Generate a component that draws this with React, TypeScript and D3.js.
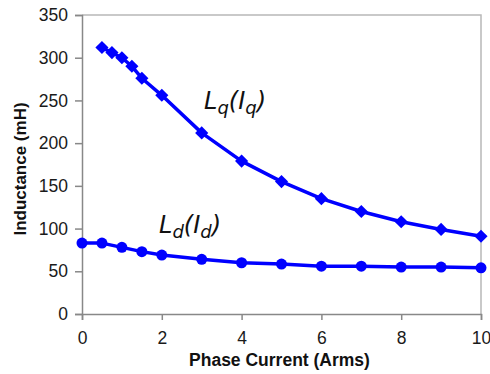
import { useEffect, useRef } from "react";
import * as d3 from "d3";

const lqCurrent = [0.5, 0.75, 1, 1.25, 1.5, 2, 3, 4, 5, 6, 7, 8, 9, 10];
const lqValues = [312, 306, 300, 290, 276, 256, 212, 179, 155, 135, 120, 108, 99, 91];
const ldCurrent = [0, 0.5, 1, 1.5, 2, 3, 4, 5, 6, 7, 8, 9, 10];
const ldValues = [83, 83, 78, 73, 69, 64, 60, 58.5, 56, 56, 55, 55, 54];
const xTicks = [0, 2, 4, 6, 8, 10];
const yTicks = [0, 50, 100, 150, 200, 250, 300, 350];

const W = 490;
const H = 374;
const BLUE = "#0000ff";

export default function App() {
  const svgRef = useRef<SVGSVGElement>(null);

  useEffect(() => {
    if (!svgRef.current) return;
    const svg = d3.select(svgRef.current);
    svg.selectAll("*").remove();

    const margin = { top: 15, right: 9, bottom: 60, left: 82 };
    const innerW = W - margin.left - margin.right;
    const innerH = H - margin.top - margin.bottom;

    const x = d3.scaleLinear().domain([0, 10]).range([0, innerW]);
    const y = d3.scaleLinear().domain([0, 350]).range([innerH, 0]);

    const g = svg
      .append("g")
      .attr("transform", `translate(${margin.left},${margin.top})`);

    // plot frame (top and right)
    g.append("path")
      .attr("d", `M0,0H${innerW}V${innerH}`)
      .attr("fill", "none")
      .attr("stroke", "#b8b8b8")
      .attr("stroke-width", 1.5);

    const font = "Arial, 'Liberation Sans', sans-serif";

    const yAxis = g
      .append("g")
      .call(d3.axisLeft(y).tickValues(yTicks).tickSize(7).tickPadding(7));
    yAxis.selectAll("path, line").attr("stroke", "#888").attr("stroke-width", 1.5);
    yAxis
      .selectAll("text")
      .style("font-family", font)
      .style("font-size", "17.5px")
      .style("fill", "#1a1a1a");

    const xAxis = g
      .append("g")
      .attr("transform", `translate(0,${innerH})`)
      .call(d3.axisBottom(x).tickValues(xTicks).tickSize(6).tickPadding(12));
    xAxis.selectAll("path, line").attr("stroke", "#888").attr("stroke-width", 1.5);
    xAxis
      .selectAll("text")
      .style("font-family", font)
      .style("font-size", "17.5px")
      .style("fill", "#1a1a1a");

    const lqData = lqCurrent.map((c, i) => [c, lqValues[i]] as [number, number]);
    const ldData = ldCurrent.map((c, i) => [c, ldValues[i]] as [number, number]);

    const line = d3
      .line<[number, number]>()
      .x((d) => x(d[0]))
      .y((d) => y(d[1]));

    for (const data of [lqData, ldData]) {
      g.append("path")
        .datum(data)
        .attr("fill", "none")
        .attr("stroke", BLUE)
        .attr("stroke-width", 3.5)
        .attr("stroke-linejoin", "round")
        .attr("d", line);
    }

    const diamond = d3.symbol().type(d3.symbolDiamond2).size(110);
    g.selectAll("path.lq")
      .data(lqData)
      .join("path")
      .attr("class", "lq")
      .attr("d", diamond)
      .attr("transform", (d) => `translate(${x(d[0])},${y(d[1])})`)
      .attr("fill", BLUE);

    g.selectAll("circle.ld")
      .data(ldData)
      .join("circle")
      .attr("class", "ld")
      .attr("cx", (d) => x(d[0]))
      .attr("cy", (d) => y(d[1]))
      .attr("r", 5.5)
      .attr("fill", BLUE);

    // curve labels
    const labelFont = "'DejaVu Sans', Verdana, sans-serif";
    const addLabel = (lx: number, ly: number, sub: string) => {
      const t = svg
        .append("text")
        .attr("x", lx)
        .attr("y", ly)
        .style("font-family", labelFont)
        .style("font-style", "italic")
        .style("font-size", "24px")
        .style("fill", "#111");
      t.append("tspan").text("L");
      t.append("tspan").attr("dy", 5).style("font-size", "18px").text(sub);
      t.append("tspan").attr("dy", -5).text("(I");
      t.append("tspan").attr("dy", 5).style("font-size", "18px").text(sub);
      t.append("tspan").attr("dy", -5).text(")");
    };
    addLabel(204, 109, "q");
    addLabel(159, 233, "d");

    // axis titles
    svg
      .append("text")
      .attr("x", margin.left + innerW / 2 - 2)
      .attr("y", 366)
      .attr("text-anchor", "middle")
      .style("font-family", font)
      .style("font-weight", "bold")
      .style("font-size", "17.5px")
      .style("fill", "#111")
      .text("Phase Current (Arms)");

    svg
      .append("text")
      .attr("transform", `translate(26,169) rotate(-90)`)
      .attr("text-anchor", "middle")
      .style("font-family", font)
      .style("font-weight", "bold")
      .style("font-size", "17px")
      .style("fill", "#111")
      .text("Inductance (mH)");
  }, []);

  return (
    <svg
      ref={svgRef}
      width={W}
      height={H}
      style={{ position: "absolute", left: 0, top: 0, background: "#fff" }}
    />
  );
}
